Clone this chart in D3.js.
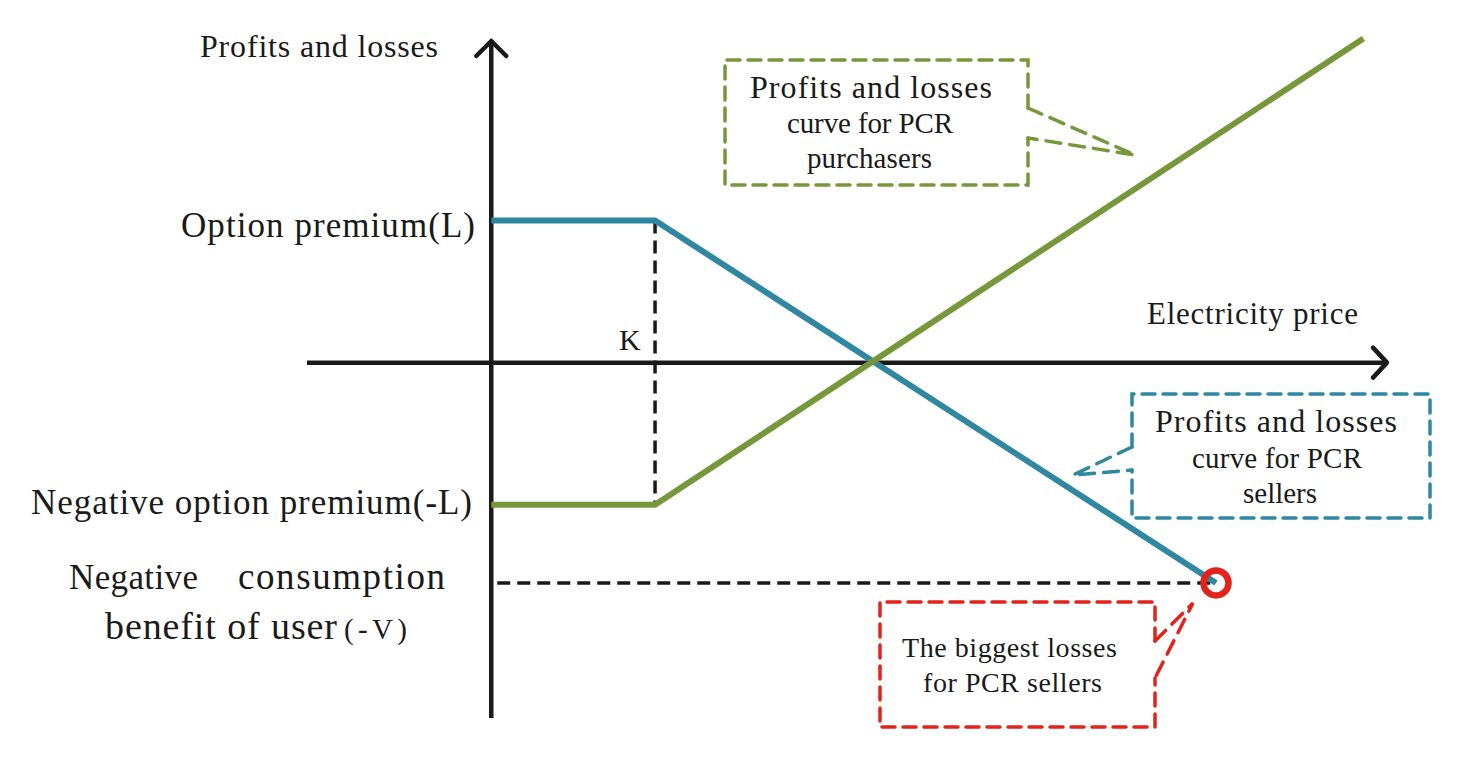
<!DOCTYPE html>
<html>
<head>
<meta charset="utf-8">
<script src="https://cdn.jsdelivr.net/npm/d3@7"></script>
<style>
  body { margin: 0; background: #fff; }
</style>
</head>
<body>
<script>
// payoff diagram, values in abstract units (price on x, profit/loss on y)
const K = 4;
const L = 2;
const V = 3.1;
const sellerCurve = [[0, L], [K, L], [17.7, -V]];
const buyerCurve = [[0, -L], [K, -L], [21.3, 4.56]];
const xAxisDomain = [-4.5, 21.9];
const yAxisDomain = [-5, 4.54];

const width = 1462, height = 759;
const blue = "#2f87a0", green = "#77983a", red = "#e2231c", black = "#1a1a1a";
const serif = "'Liberation Serif', 'Times New Roman', Times, 'DejaVu Serif', serif";

const svg = d3.select("body").append("svg")
    .attr("width", width)
    .attr("height", height);

const x = d3.scaleLinear().domain(xAxisDomain).range([307, 1388]);
const y = d3.scaleLinear().domain(yAxisDomain).range([718, 40]);

// axes
svg.append("line")
    .attr("x1", x(0)).attr("x2", x(0))
    .attr("y1", y(yAxisDomain[0])).attr("y2", y(yAxisDomain[1]) + 2)
    .attr("stroke", black).attr("stroke-width", 4.5);
svg.append("path")
    .attr("d", `M${x(0) - 15},${y(yAxisDomain[1]) + 16}L${x(0)},${y(yAxisDomain[1]) + 1}L${x(0) + 15},${y(yAxisDomain[1]) + 16}`)
    .attr("fill", "none").attr("stroke", black).attr("stroke-width", 4.5)
    .attr("stroke-linecap", "round").attr("stroke-linejoin", "round");

svg.append("line")
    .attr("x1", x(xAxisDomain[0])).attr("x2", x(xAxisDomain[1]) - 2)
    .attr("y1", y(0)).attr("y2", y(0))
    .attr("stroke", black).attr("stroke-width", 4.5);
svg.append("path")
    .attr("d", `M${x(xAxisDomain[1]) - 15},${y(0) - 15}L${x(xAxisDomain[1]) - 1},${y(0)}L${x(xAxisDomain[1]) - 15},${y(0) + 15}`)
    .attr("fill", "none").attr("stroke", black).attr("stroke-width", 4.5)
    .attr("stroke-linecap", "round").attr("stroke-linejoin", "round");

// dashed guides for K and -V
svg.append("line")
    .attr("x1", x(K)).attr("x2", x(K))
    .attr("y1", y(L)).attr("y2", y(-L))
    .attr("stroke", black).attr("stroke-width", 3.5).attr("stroke-dasharray", "13,7");
svg.append("line")
    .attr("x1", x(0) + 6).attr("x2", x(sellerCurve[2][0]))
    .attr("y1", y(-V)).attr("y2", y(-V))
    .attr("stroke", black).attr("stroke-width", 3.5).attr("stroke-dasharray", "13,7");

// payoff curves
const line = d3.line().x(d => x(d[0])).y(d => y(d[1]));
svg.append("path").datum(sellerCurve)
    .attr("d", line).attr("fill", "none")
    .attr("stroke", blue).attr("stroke-width", 6);
svg.append("path").datum(buyerCurve)
    .attr("d", line).attr("fill", "none")
    .attr("stroke", green).attr("stroke-width", 6);

// biggest loss marker
svg.append("circle")
    .attr("cx", x(sellerCurve[2][0])).attr("cy", y(-V))
    .attr("r", 12.5).attr("fill", "none")
    .attr("stroke", red).attr("stroke-width", 6.5);

// labels
function label(txt, px, py, size, len) {
    const t = svg.append("text")
        .attr("x", px).attr("y", py)
        .attr("font-family", serif)
        .attr("font-size", size)
        .attr("fill", black)
        .text(txt);
    if (len) t.attr("textLength", len).attr("lengthAdjust", "spacing");
    return t;
}
label("Profits and losses", 200, 57, 32, 238);
label("Option premium(L)", 181, 237, 35, 294);
label("K", 619, 350, 30);
label("Electricity price", 1147, 324, 31, 211);
label("Negative option premium(-L)", 31, 514, 35, 441);
label("Negative", 69, 589, 35, 129);
label("consumption", 238, 589, 37, 207);
label("benefit of user", 105, 639, 38, 232);
label("(-V)", 344, 639, 29, 63);

// callout boxes
function callout(box, gap, tip, color, lines) {
    let d;
    const [x0, y0, x1, y1] = box;
    if (gap.side === "right") {
        d = `M${x1},${gap.a}L${x1},${y0}L${x0},${y0}L${x0},${y1}L${x1},${y1}L${x1},${gap.b}`;
    } else {
        d = `M${x0},${gap.a}L${x0},${y0}L${x1},${y0}L${x1},${y1}L${x0},${y1}L${x0},${gap.b}`;
    }
    svg.append("path").attr("d", d)
        .attr("fill", "none").attr("stroke", color)
        .attr("stroke-width", 3.5).attr("stroke-dasharray", "13,8")
        .attr("stroke-linecap", "round");
    const ex = gap.side === "right" ? x1 : x0;
    svg.append("path")
        .attr("d", `M${ex},${gap.a}L${tip[0]},${tip[1]}L${ex},${gap.b}`)
        .attr("fill", "none").attr("stroke", color)
        .attr("stroke-width", 3.5).attr("stroke-dasharray", "15,9")
        .attr("stroke-linecap", "round");
    lines.forEach(l => label(l.t, l.x, l.y, l.s, l.w));
}

callout([725, 60, 1028, 185], { side: "right", a: 108, b: 138 }, [1135, 155], green, [
    { t: "Profits and losses", x: 750, y: 98, s: 32, w: 242 },
    { t: "curve for PCR", x: 787, y: 133, s: 29, w: 166 },
    { t: "purchasers", x: 807, y: 168, s: 29, w: 125 }
]);
callout([1132, 394, 1430, 518], { side: "left", a: 447, b: 470 }, [1073, 475], blue, [
    { t: "Profits  and losses", x: 1155, y: 432, s: 32, w: 242 },
    { t: "curve for PCR", x: 1192, y: 468, s: 29, w: 170 },
    { t: "sellers", x: 1243, y: 503, s: 29, w: 74 }
]);
callout([880, 602, 1155, 727], { side: "right", a: 641, b: 678 }, [1193, 603], red, [
    { t: "The biggest losses", x: 902, y: 657, s: 28, w: 215 },
    { t: "for PCR sellers", x: 923, y: 692, s: 28, w: 179 }
]);
</script>
</body>
</html>
